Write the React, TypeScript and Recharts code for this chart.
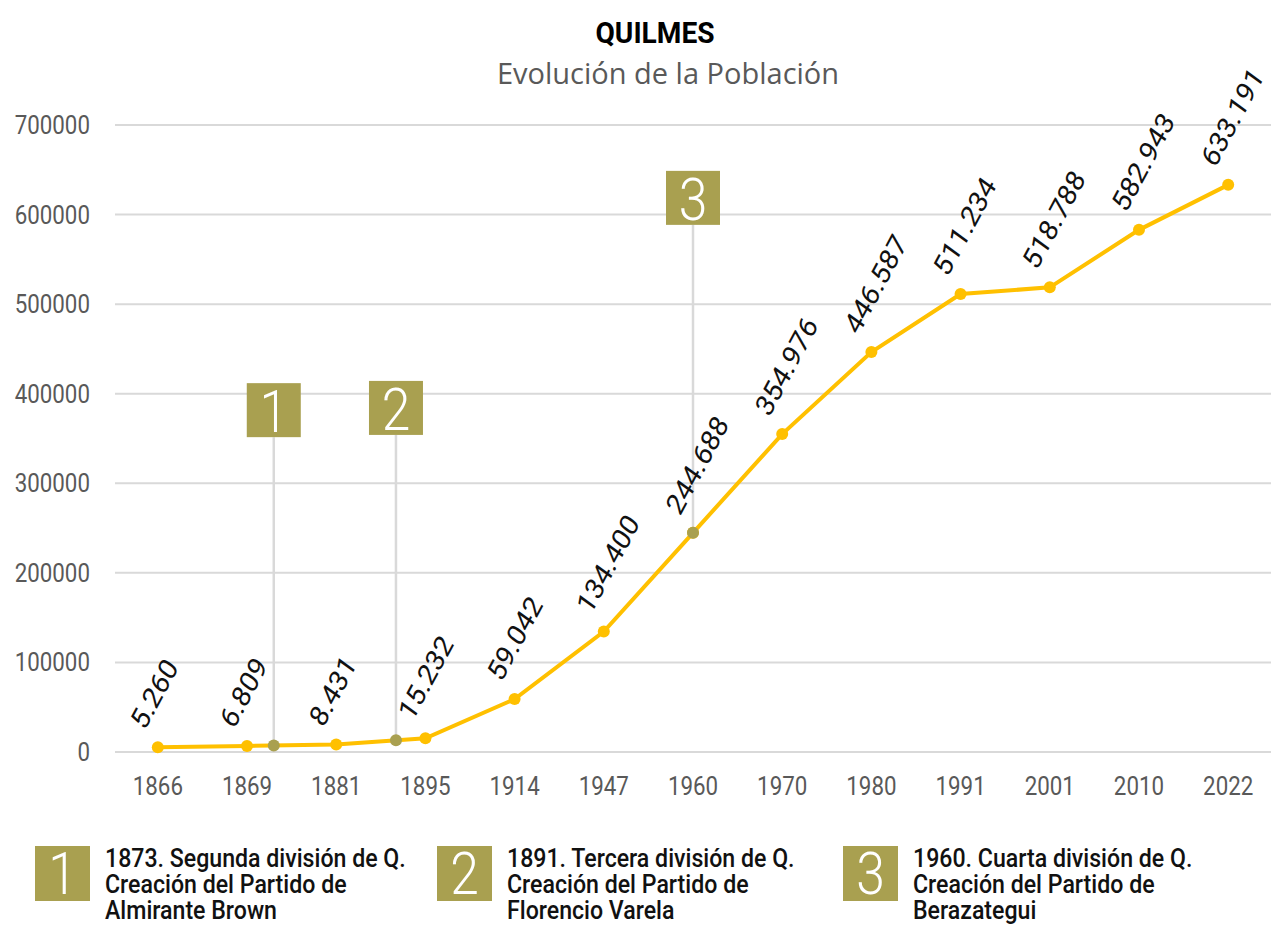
import {
  ComposedChart, Line, Scatter, XAxis, YAxis, CartesianGrid, ReferenceLine, LabelList
} from "recharts";

const years = ["1866", "1869", "1881", "1895", "1914", "1947", "1960", "1970", "1980", "1991", "2001", "2010", "2022"];
const population = [5260, 6809, 8431, 15232, 59042, 134400, 244688, 354976, 446587, 511234, 518788, 582943, 633191];
const yTicks = [0, 100000, 200000, 300000, 400000, 500000, 600000, 700000];

// annotation markers: position on the category axis, value on the line, top of the stem
const markerNums = ["1", "2", "3"];
const markerPos = [1.3, 2.67, 6];
const markerVal = [7300, 13000, 244688];
const markerTop = [351500, 354000, 588500];

const legendTexts = [
  ["1873. Segunda división de Q.", "Creación del Partido de", "Almirante Brown"],
  ["1891. Tercera división de Q.", "Creación del Partido de", "Florencio Varela"],
  ["1960. Cuarta división de Q.", "Creación del Partido de", "Berazategui"],
];

const data = population.map((pop, i) => ({ x: i, pop }));
const dots = markerPos.map((x, i) => ({ x, y: markerVal[i] }));
const boxes = markerPos.map((x, i) => ({ x, y: markerTop[i], n: markerNums[i] }));

const GOLD = "#FFC000";
const OLIVE = "#A9A050";
const GRID = "#D9D9D9";
const SX = 0.86;
const FONT = "Roboto, 'Noto Sans', sans-serif";

const fmt = (v: number) => String(v).replace(/\B(?=(\d{3})+(?!\d))/g, ".");

const XTick = (props: any) => {
  const { x, y, payload } = props;
  return (
    <text transform={`translate(${x},${y + 43}) scale(${SX},1)`} textAnchor="middle"
      fontSize={26} fill="#595959" fontFamily={FONT}>
      {years[payload.value]}
    </text>
  );
};

const YTick = (props: any) => {
  const { x, y, payload } = props;
  return (
    <text transform={`translate(${x},${y + 9}) scale(${SX},1)`} textAnchor="end"
      fontSize={26} fill="#595959" fontFamily={FONT}>
      {payload.value}
    </text>
  );
};

const ValueLabel = (props: any) => {
  const { x, y, value } = props;
  return (
    <text transform={`translate(${x - 13},${y - 16}) scale(${SX},1) rotate(-58)`}
      fontSize={30} fill="#111" fontFamily={FONT}>
      {fmt(value)}
    </text>
  );
};

const GreyDot = (props: any) => <circle cx={props.cx} cy={props.cy} r={6} fill={OLIVE} />;

const Box = (props: any) => {
  const { cx, cy, payload } = props;
  return (
    <g>
      <rect x={cx - 27} y={cy - 54} width={54} height={54} fill={OLIVE} />
      <text transform={`translate(${cx},${cy - 5}) scale(${SX},1)`} textAnchor="middle"
        fontSize={60} fontWeight={300} fill="#fff" fontFamily={FONT}>
        {payload.n}
      </text>
    </g>
  );
};

const legendX = [35, 437, 843];

export default function App() {
  return (
    <div style={{ position: "absolute", left: 0, top: 0, width: 1271, height: 929, background: "#fff" }}>
      <svg width={1271} height={929} style={{ position: "absolute", left: 0, top: 0 }}>
        <text transform="translate(655,43) scale(0.97,1)" textAnchor="middle" fontSize={29}
          fontWeight={700} fill="#000" fontFamily={FONT}>QUILMES</text>
        <text x={668} y={84} textAnchor="middle" fontSize={29}
          fill="#595959" fontFamily="'Open Sans', sans-serif">Evolución de la Población</text>
        {legendX.map((lx, i) => (
          <g key={i}>
            <rect x={lx} y={846} width={55} height={55} fill={OLIVE} />
            <text transform={`translate(${lx + 27.5},${894}) scale(${SX},1)`} textAnchor="middle"
              fontSize={60} fontWeight={300} fill="#fff" fontFamily={FONT}>{markerNums[i]}</text>
            {legendTexts[i].map((t, j) => (
              <text key={j} transform={`translate(${lx + 70},${867 + j * 26}) scale(0.89,1)`}
                fontSize={26} fontWeight={500} fill="#111" fontFamily={FONT}>{t}</text>
            ))}
          </g>
        ))}
      </svg>
      <div style={{ position: "absolute", left: 0, top: 0 }}>
        <ComposedChart width={1271} height={820} data={data}
          margin={{ top: 125, right: 0, bottom: 28, left: 0 }}>
          <CartesianGrid vertical={false} stroke={GRID} strokeWidth={2} />
          <XAxis type="number" dataKey="x" domain={[-0.48, 12.48]} ticks={years.map((_, i) => i)}
            axisLine={false} tickLine={false} tickSize={0} tickMargin={0} height={40}
            tick={<XTick />} interval={0} allowDataOverflow />
          <YAxis type="number" domain={[0, 700000]} ticks={yTicks} width={115}
            axisLine={false} tickLine={false} tickSize={0} tickMargin={25} tick={<YTick />} interval={0} />
          {markerPos.map((p, i) => (
            <ReferenceLine key={i} segment={[{ x: p, y: markerVal[i] }, { x: p, y: markerTop[i] }]}
              stroke={GRID} strokeWidth={2.5} />
          ))}
          <Line type="linear" dataKey="pop" stroke={GOLD} strokeWidth={4}
            dot={{ r: 6, fill: GOLD, stroke: "none" }} isAnimationActive={false}>
            <LabelList dataKey="pop" content={<ValueLabel />} />
          </Line>
          <Scatter data={dots} dataKey="y" shape={<GreyDot />} isAnimationActive={false} />
          <Scatter data={boxes} dataKey="y" shape={<Box />} isAnimationActive={false} />
        </ComposedChart>
      </div>
    </div>
  );
}
